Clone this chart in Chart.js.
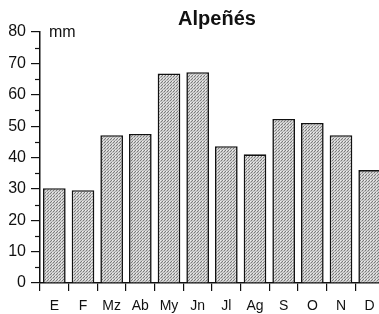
<!DOCTYPE html>
<html>
<head>
<meta charset="utf-8">
<script src="https://cdn.jsdelivr.net/npm/chart.js@4/dist/chart.umd.min.js"></script>
<style>
	html, body { margin: 0; padding: 0; background: #fff; overflow: hidden; }
	#wrap { width: 384px; height: 314px; }
</style>
</head>
<body>
<div id="wrap"><canvas id="climaChart" width="384" height="314"></canvas></div>
<script>
	//Data
	var stationName = 'Alpeñés';
	var unitLabel = 'mm';
	var months = ['E', 'F', 'Mz', 'Ab', 'My', 'Jn', 'Jl', 'Ag', 'S', 'O', 'N', 'D'];
	var rainfall = [30.2, 29.6, 47.1, 47.5, 66.8, 67.2, 43.6, 41.0, 52.3, 51.0, 47.1, 36.0];
	var yMin = 0;
	var yMax = 80;
	var yStep = 10;
	var yMinorStep = 5;

	//Stippled fill like the printed original
	function makePattern()
	{
		var c = document.createElement('canvas');
		c.width = 3;
		c.height = 3;
		var p = c.getContext('2d');
		p.fillStyle = '#d0d0d0';
		p.fillRect(0, 0, 3, 3);
		p.fillStyle = '#7a7a7a';
		p.fillRect(0, 0, 1, 1);
		p.fillRect(2, 1, 1, 1);
		p.fillStyle = '#a8a8a8';
		p.fillRect(1, 2, 1, 1);
		p.fillStyle = '#f0f0f0';
		p.fillRect(1, 0, 1, 1);
		return p.createPattern(c, 'repeat');
	}

	//Title and unit text
	var textPlugin = {
		id: 'textPlugin',
		afterDraw: function(chart)
		{
			var ctx = chart.ctx;
			ctx.save();
			ctx.fillStyle = '#111';
			ctx.textBaseline = 'middle';
			ctx.textAlign = 'center';
			ctx.font = 'bold 20px "Liberation Sans", Arial, sans-serif';
			ctx.fillText(stationName, 217, 19);
			ctx.textAlign = 'left';
			ctx.font = '16px "Liberation Sans", Arial, sans-serif';
			ctx.fillText(unitLabel, 49, 33);
			ctx.restore();
		}
	};

	//Short minor ticks on the y axis
	var minorTicks = {
		id: 'minorTicks',
		afterDraw: function(chart)
		{
			var y = chart.scales.y;
			var ctx = chart.ctx;
			var x0 = chart.chartArea.left;
			ctx.save();
			ctx.strokeStyle = '#111';
			ctx.lineWidth = 1.2;
			for (var v = yMin + yMinorStep; v < yMax; v += yStep)
			{
				var py = Math.round(y.getPixelForValue(v)) + 0.5;
				ctx.beginPath();
				ctx.moveTo(x0 - 5, py);
				ctx.lineTo(x0, py);
				ctx.stroke();
			}
			ctx.restore();
		}
	};

	var ctx = document.getElementById('climaChart').getContext('2d');

	var climaChart = new Chart(ctx, {
		type: 'bar',
		data: {
			labels: months,
			datasets: [{
				data: rainfall,
				backgroundColor: makePattern(),
				borderColor: '#111',
				borderWidth: 1.6,
				barPercentage: 0.79,
				categoryPercentage: 1
			}]
		},
		options: {
			responsive: false,
			animation: false,
			layout: {
				padding: { top: 32, left: 0, right: 0, bottom: 0 }
			},
			plugins: {
				legend: { display: false },
				title: { display: false },
				tooltip: { enabled: false }
			},
			scales: {
				x: {
					grid: {
						drawOnChartArea: false,
						color: '#111',
						tickLength: 8,
						lineWidth: 1.2
					},
					border: { color: '#111', width: 1.5 },
					ticks: {
						color: '#111',
						padding: 7,
						font: { family: '"Liberation Sans", Arial, sans-serif', size: 14 }
					},
					afterFit: function(scale) { scale.height = 31; }
				},
				y: {
					min: yMin,
					max: yMax,
					grid: {
						drawOnChartArea: false,
						color: '#111',
						tickLength: 9,
						lineWidth: 1.2
					},
					border: { color: '#111', width: 1.5 },
					ticks: {
						stepSize: yStep,
						color: '#111',
						padding: 5,
						font: { family: '"Liberation Sans", Arial, sans-serif', size: 16 }
					},
					afterFit: function(scale) { scale.width = 40; }
				}
			}
		},
		plugins: [textPlugin, minorTicks]
	});
</script>
</body>
</html>
